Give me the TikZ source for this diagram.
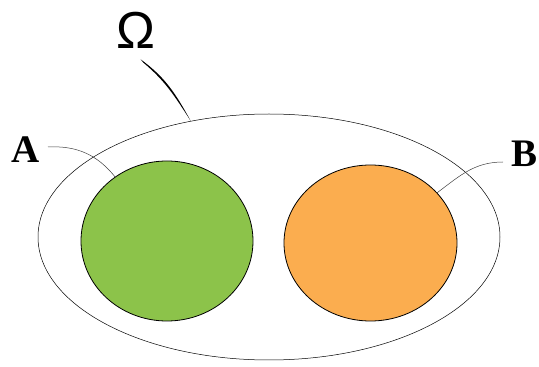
\documentclass[tikz,border=0pt]{standalone}
\usepackage{amsmath}
\usepackage{fontspec}
\newfontfamily\labelfont{Liberation Serif}
\newfontfamily\omegafont{Liberation Sans}
\usetikzlibrary{shapes.geometric}

\begin{document}
\begin{tikzpicture}[x=1pt,y=1pt,
  region/.style ={ellipse, draw, line width=0.5pt, inner sep = 0pt},
  eventset/.style ={ellipse, draw, line width=0.8pt, inner sep = 0pt},
  setname/.style ={anchor=base, inner sep = 0pt, font=\labelfont\fontsize{39}{41}\selectfont\bfseries},
  pointer/.style ={line width=0.5pt, black!75}]
 \useasboundingbox (0,0) rectangle (539,367);
 \node[region] (W) at (269,130) [minimum width=462pt, minimum height=246pt] {};
 \node[eventset, fill={rgb,255:red,140;green,195;blue,74}] (A) at (167,126) [minimum width=172pt, minimum height=160pt] {};
 \node[eventset, fill={rgb,255:red,251;green,173;blue,79}] (B) at (370.5,124) [minimum width=173pt, minimum height=156pt] {};
 \node[anchor=base, inner sep = 0pt, font=\omegafont\fontsize{52}{54}\selectfont] (Wlabel) at (136,318) {Ω};
 \node[setname] (Alabel) at (26,204) {A};
 \node[setname] (Blabel) at (525,200) {B};
 \coordinate (Wtop) at (142,306);
 \coordinate (Aend) at (48,220);
 \coordinate (Bend) at (503,205);
 % tapered pointer to the sample space
 \fill ([shift={(-1.3,1.6)}]Wtop) to[out=-36, in=119] (W.124)
   to[out=123, in=-40] ([shift={(1.3,-1.6)}]Wtop) -- cycle;
 \draw[pointer] (Aend) to[out=3, in=129] (A.129);
 \draw[pointer] (Bend) to[out=180, in=37] (B.37);
\end{tikzpicture}
\end{document}
